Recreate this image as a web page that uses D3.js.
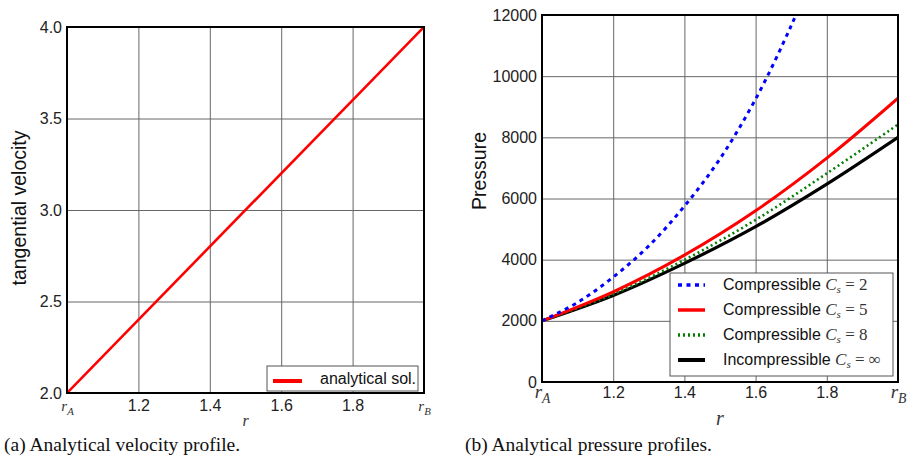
<!DOCTYPE html>
<html>
<head>
<meta charset="utf-8">
<script src="https://cdn.jsdelivr.net/npm/d3@7"></script>
<style>
  body { margin: 0; background: #fff; }
  svg { display: block; }
</style>
</head>
<body>
<svg id="chart" width="909" height="460"></svg>
<script>
// ticks shared by both panels
const rTicks = [1.0, 1.2, 1.4, 1.6, 1.8, 2.0];
const rTickLabels = ["A", "1.2", "1.4", "1.6", "1.8", "B"]; // ends are r_A / r_B

// (a) velocity
const velR = [1.0, 2.0];
const velocity = [2.0, 4.0];
const velTicks = [2.0, 2.5, 3.0, 3.5, 4.0];

// (b) pressure
const pressureTicks = [0, 2000, 4000, 6000, 8000, 10000, 12000];
const rBlue = [1.0, 1.1, 1.2, 1.3, 1.4, 1.5, 1.6, 1.7, 1.75];
const pCs2 = [2000, 2600, 3430, 4450, 5750, 7300, 9250, 11650, 13050];
const rGrid = [1.0, 1.2, 1.4, 1.6, 1.8, 2.0];
const pCs5 = [2000, 2950, 4150, 5600, 7320, 9280];
const pCs8 = [2000, 2870, 3990, 5300, 6820, 8420];
const pInc = [2000, 2830, 3880, 5080, 6470, 8000];

const seriesNames = ["2", "5", "8", "\u221E"];

const svg = d3.select("#chart");
svg.append("rect").attr("width", 909).attr("height", 460).attr("fill", "#fff");

const SANS = "'Liberation Sans', Arial, sans-serif";
const SERIF = "'Liberation Serif', 'Times New Roman', serif";

function panel(o) {
  const x = d3.scaleLinear().domain([1, 2]).range([o.left, o.right]);
  const y = d3.scaleLinear().domain(o.yDomain).range([o.bottom, o.top]);
  const g = svg.append("g");
  const h = o.bottom - o.top, w = o.right - o.left;

  // x grid + labels
  const gx = g.append("g")
    .attr("transform", `translate(0,${o.bottom})`)
    .call(d3.axisBottom(x).tickValues(rTicks).tickSize(-h).tickPadding(0)
      .tickFormat((d, i) => rTickLabels[i]));
  gx.select(".domain").remove();
  gx.selectAll(".tick line").attr("stroke", "#666").attr("stroke-width", 1);
  gx.selectAll(".tick text")
    .attr("fill", "#222").attr("font-family", SANS).attr("font-size", 16)
    .attr("y", o.xLabelDy).attr("dy", "0.35em");
  // r_A and r_B as italic math
  gx.selectAll(".tick text").filter((d, i) => i === 0 || i === rTicks.length - 1)
    .each(function (d, i) {
      const t = d3.select(this).text("").attr("font-family", SERIF)
        .attr("font-style", "italic").attr("fill", "#333");
      t.append("tspan").attr("font-size", o.mathSize).text("r");
      t.append("tspan").attr("font-size", o.mathSize * 0.72).attr("dy", o.mathSize * 0.3)
        .text(i === 0 ? "A" : "B");
    })
    .attr("text-anchor", "middle");

  // y grid + labels
  const gy = g.append("g")
    .attr("transform", `translate(${o.left},0)`)
    .call(d3.axisLeft(y).tickValues(o.yTicks).tickSize(-w).tickPadding(5)
      .tickFormat(o.yFormat));
  gy.select(".domain").remove();
  gy.selectAll(".tick line").attr("stroke", "#666").attr("stroke-width", 1);
  gy.selectAll(".tick text").attr("fill", "#222").attr("font-family", SANS).attr("font-size", 16);

  // clip for curves
  const clipId = "clip" + o.id;
  svg.append("clipPath").attr("id", clipId)
    .append("rect").attr("x", o.left).attr("y", o.top).attr("width", w).attr("height", h);
  const plot = g.append("g").attr("clip-path", `url(#${clipId})`);

  // axis titles
  g.append("text")
    .attr("transform", `translate(${o.yTitleX},${o.yTitleY}) rotate(-90)`)
    .attr("text-anchor", "middle").attr("dy", "0.35em")
    .attr("font-family", SANS).attr("font-size", 19.5).attr("fill", "#111")
    .text(o.yTitle);
  g.append("text")
    .attr("x", (o.left + o.right) / 2).attr("y", o.rTitleY)
    .attr("text-anchor", "middle").attr("dy", "0.35em")
    .attr("font-family", SERIF).attr("font-style", "italic")
    .attr("font-size", o.mathSize + 1).attr("fill", "#333")
    .text("r");

  // caption
  svg.append("text")
    .attr("x", o.capX).attr("y", 451)
    .attr("font-family", SERIF).attr("font-size", 19.5).attr("fill", "#111")
    .text(o.caption);

  return { x, y, g, plot, frame: () => g.append("rect")
    .attr("x", o.left).attr("y", o.top).attr("width", w).attr("height", h)
    .attr("fill", "none").attr("stroke", "#000").attr("stroke-width", 2) };
}

// ---------- (a) ----------
const A = panel({
  id: "a", left: 67, right: 424, top: 27, bottom: 393,
  yDomain: [2, 4], yTicks: velTicks, yFormat: d3.format(".1f"),
  xLabelDy: 12, mathSize: 15, rTitleY: 420,
  yTitle: "tangential velocity", yTitleX: 19, yTitleY: 208,
  caption: "(a) Analytical velocity profile.", capX: 4
});
A.plot.append("path")
  .datum(velR.map((r, i) => [r, velocity[i]]))
  .attr("d", d3.line().x(d => A.x(d[0])).y(d => A.y(d[1])))
  .attr("fill", "none").attr("stroke", "#ff0000").attr("stroke-width", 2.6);

// legend (a)
const la = A.g.append("g");
la.append("rect").attr("x", 267).attr("y", 366).attr("width", 151).attr("height", 25)
  .attr("fill", "#fff").attr("stroke", "#555").attr("stroke-width", 1);
la.append("line").attr("x1", 273).attr("x2", 302).attr("y1", 381).attr("y2", 381)
  .attr("stroke", "#ff0000").attr("stroke-width", 4);
la.append("text").attr("x", 320).attr("y", 384)
  .attr("font-family", SANS).attr("font-size", 16).attr("fill", "#111")
  .text("analytical sol.");
A.frame();

// ---------- (b) ----------
const B = panel({
  id: "b", left: 542, right: 898, top: 15, bottom: 382,
  yDomain: [0, 12000], yTicks: pressureTicks, yFormat: d3.format("d"),
  xLabelDy: 10, mathSize: 19, rTitleY: 418,
  yTitle: "Pressure", yTitleX: 479, yTitleY: 171,
  caption: "(b) Analytical pressure profiles.", capX: 465
});

const styles = [
  { color: "#0000ff", width: 3, dash: "4,4.5" },
  { color: "#ff0000", width: 3, dash: null },
  { color: "#007f00", width: 2.6, dash: "2,3" },
  { color: "#000000", width: 3.2, dash: null }
];
const curves = [
  rBlue.map((r, i) => [r, pCs2[i]]),
  rGrid.map((r, i) => [r, pCs5[i]]),
  rGrid.map((r, i) => [r, pCs8[i]]),
  rGrid.map((r, i) => [r, pInc[i]])
];
const pLine = d3.line().curve(d3.curveCatmullRom.alpha(0.5))
  .x(d => B.x(d[0])).y(d => B.y(d[1]));
// draw incompressible first so coloured curves stay visible above it
[3, 2, 1, 0].forEach(k => {
  B.plot.append("path").datum(curves[k]).attr("d", pLine)
    .attr("fill", "none").attr("stroke", styles[k].color)
    .attr("stroke-width", styles[k].width)
    .attr("stroke-dasharray", styles[k].dash);
});

// legend (b)
const lb = B.g.append("g");
lb.append("rect").attr("x", 670).attr("y", 273).attr("width", 223).attr("height", 103)
  .attr("fill", "#fff").attr("stroke", "#555").attr("stroke-width", 1);
seriesNames.forEach((nm, i) => {
  const yy = 285 + i * 25;
  lb.append("line").attr("x1", 678).attr("x2", 705).attr("y1", yy).attr("y2", yy)
    .attr("stroke", styles[i].color).attr("stroke-width", i === 3 ? 4 : 3.5)
    .attr("stroke-dasharray", styles[i].dash);
  const t = lb.append("text").attr("x", 723).attr("y", yy + 5)
    .attr("font-family", SANS).attr("font-size", 16).attr("fill", "#111");
  t.append("tspan").text(i === 3 ? "Incompressible " : "Compressible ");
  t.append("tspan").attr("font-family", SERIF).attr("font-style", "italic")
    .attr("font-size", 17).attr("fill", "#333").text("C");
  t.append("tspan").attr("font-family", SERIF).attr("font-style", "italic")
    .attr("font-size", 11).attr("dy", 3).attr("fill", "#333").text("s");
  t.append("tspan").attr("font-family", SERIF).attr("font-size", 17)
    .attr("dy", -3).attr("fill", "#333").text(" = " + nm);
});
B.frame();
</script>
</body>
</html>
